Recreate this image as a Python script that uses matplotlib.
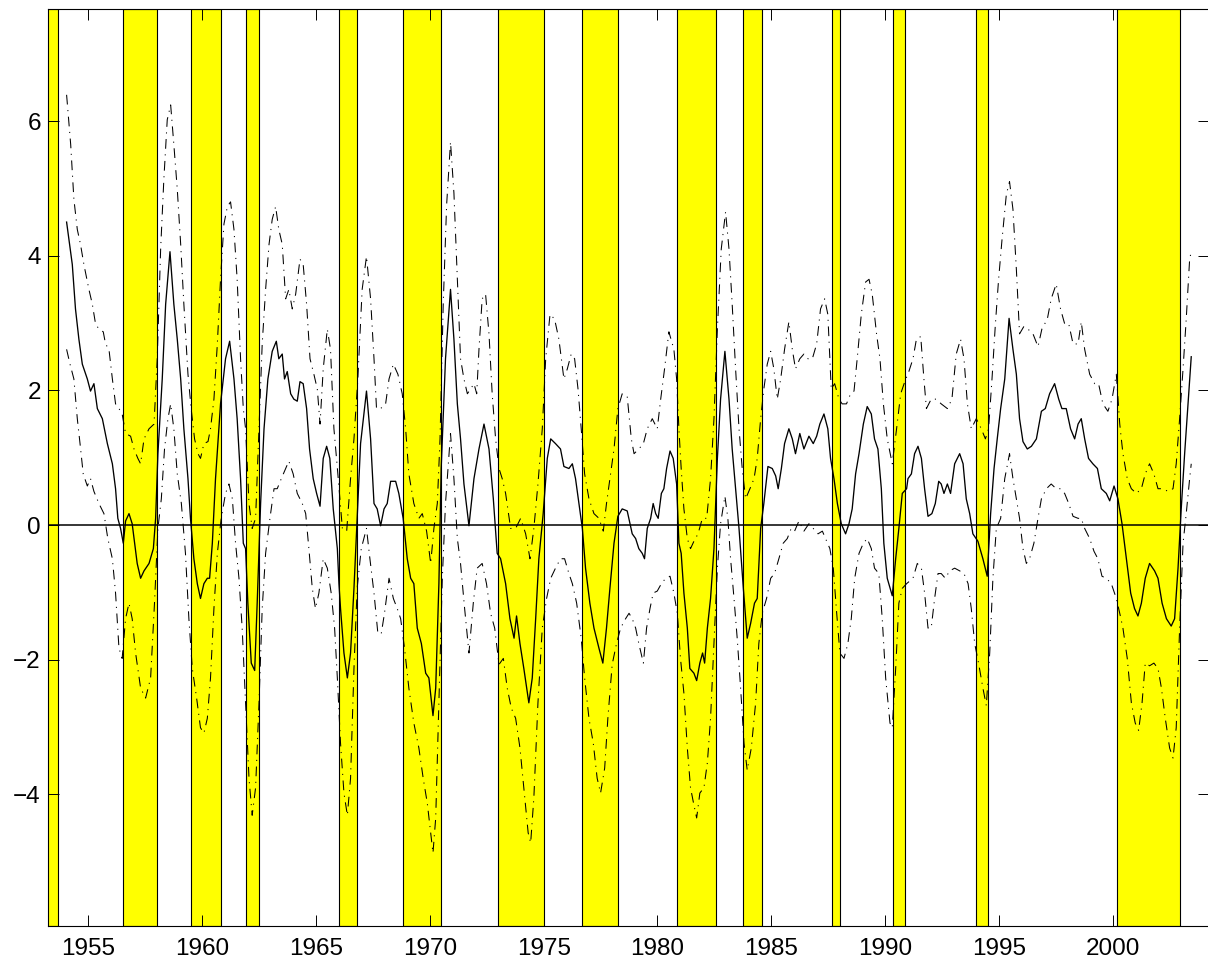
import matplotlib
matplotlib.use("Agg")
import matplotlib.pyplot as plt

# shaded periods (start, end) in years
recessions = [(1953.0, 1953.68), (1956.51, 1958.00), (1959.51, 1960.83),
              (1961.93, 1962.51), (1966.02, 1966.82), (1968.83, 1970.50),
              (1973.01, 1975.01), (1976.67, 1978.25), (1980.84, 1982.59),
              (1983.76, 1984.59), (1987.67, 1988.01), (1990.33, 1990.85),
              (1994.00, 1994.50), (2000.18, 2002.96)]

# central estimate (year, value)
center = [
    (1954.05, 4.50), (1954.30, 3.87), (1954.44, 3.21), (1954.59, 2.76), (1954.74, 2.39),
    (1954.96, 2.17), (1955.10, 1.99), (1955.25, 2.10), (1955.40, 1.73), (1955.62, 1.58),
    (1955.84, 1.21), (1956.06, 0.91), (1956.20, 0.54), (1956.30, 0.10), (1956.42, -0.05),
    (1956.54, -0.27), (1956.64, 0.06), (1956.79, 0.17), (1956.93, 0.02), (1957.15, -0.57),
    (1957.30, -0.79), (1957.45, -0.68), (1957.67, -0.57), (1957.86, -0.35), (1957.96, 0.10),
    (1958.06, 1.06), (1958.25, 2.17), (1958.40, 3.28), (1958.59, 4.06), (1958.76, 3.28),
    (1958.91, 2.76), (1959.06, 2.17), (1959.20, 1.43), (1959.38, 0.69), (1959.49, 0.10),
    (1959.64, -0.50), (1959.79, -0.87), (1959.93, -1.09), (1960.08, -0.87), (1960.23, -0.79),
    (1960.33, -0.79), (1960.45, -0.27), (1960.59, 0.69), (1960.81, 1.80), (1961.03, 2.47),
    (1961.21, 2.73), (1961.40, 2.17), (1961.54, 1.58), (1961.69, 0.69), (1961.81, -0.27),
    (1961.91, -0.35), (1962.01, -1.16), (1962.16, -2.05), (1962.31, -2.16), (1962.42, -1.16),
    (1962.57, 0.32), (1962.72, 1.43), (1962.89, 2.17), (1963.08, 2.58), (1963.26, 2.73),
    (1963.37, 2.47), (1963.52, 2.54), (1963.62, 2.17), (1963.74, 2.28), (1963.89, 1.95),
    (1964.03, 1.87), (1964.18, 1.84), (1964.30, 2.13), (1964.44, 2.10), (1964.59, 1.73),
    (1964.72, 1.13), (1964.88, 0.69), (1965.03, 0.47), (1965.18, 0.28), (1965.32, 0.99),
    (1965.47, 1.17), (1965.61, 0.99), (1965.76, 0.24), (1965.94, -0.35),
    (1966.01, -0.87), (1966.08, -1.24), (1966.23, -1.90), (1966.38, -2.27), (1966.52, -1.90),
    (1966.67, -0.94), (1966.81, 0.10), (1966.96, 1.21), (1967.22, 1.99), (1967.40, 1.28),
    (1967.55, 0.32), (1967.69, 0.24), (1967.84, -0.01), (1967.99, 0.24), (1968.13, 0.32),
    (1968.28, 0.65), (1968.50, 0.65), (1968.64, 0.47), (1968.83, 0.10), (1969.01, -0.50),
    (1969.16, -0.79), (1969.30, -0.87), (1969.45, -1.53), (1969.63, -1.76), (1969.82, -2.20),
    (1969.96, -2.27), (1970.14, -2.83), (1970.26, -2.42), (1970.40, -0.87), (1970.50, 0.84),
    (1970.69, 2.47), (1970.91, 3.50), (1971.06, 2.76), (1971.21, 1.80), (1971.35, 1.28),
    (1971.50, 0.61), (1971.72, -0.01), (1971.94, 0.69), (1972.16, 1.13), (1972.38, 1.50),
    (1972.60, 1.13), (1972.79, 0.39), (1972.96, -0.42), (1973.11, -0.50), (1973.33, -0.87),
    (1973.52, -1.39), (1973.70, -1.68), (1973.81, -1.35), (1973.96, -1.76), (1974.13, -2.13),
    (1974.35, -2.64), (1974.50, -2.27), (1974.65, -1.39), (1974.79, -0.50), (1974.98, 0.17),
    (1975.16, 0.99), (1975.31, 1.28), (1975.52, 1.21), (1975.74, 1.13), (1975.89, 0.87),
    (1976.11, 0.84), (1976.26, 0.91), (1976.40, 0.69), (1976.55, 0.32), (1976.70, -0.05),
    (1976.84, -0.64), (1977.03, -1.16), (1977.21, -1.53), (1977.43, -1.83), (1977.60, -2.05),
    (1977.76, -1.53), (1977.91, -0.94), (1978.09, -0.27), (1978.26, 0.13), (1978.45, 0.24),
    (1978.67, 0.21),
    (1978.89, -0.13), (1979.04, -0.20), (1979.18, -0.35), (1979.33, -0.42), (1979.43, -0.50),
    (1979.55, -0.05), (1979.70, 0.10), (1979.81, 0.32), (1979.92, 0.17), (1980.03, 0.10),
    (1980.17, 0.47), (1980.28, 0.54), (1980.40, 0.84), (1980.55, 1.10), (1980.69, 0.99),
    (1980.84, 0.61), (1980.94, -0.27), (1981.04, -0.42), (1981.16, -1.01), (1981.31, -1.53),
    (1981.42, -2.13), (1981.60, -2.20), (1981.72, -2.31), (1981.86, -2.05), (1981.98, -1.90),
    (1982.07, -2.05), (1982.19, -1.53), (1982.33, -1.09), (1982.48, -0.35), (1982.63, 0.99),
    (1982.77, 1.87), (1982.96, 2.58), (1983.14, 1.87), (1983.28, 1.13), (1983.43, 0.54),
    (1983.58, -0.05), (1983.77, -0.94), (1983.94, -1.68), (1984.09, -1.46), (1984.26, -1.16),
    (1984.38, -1.09), (1984.53, -0.05), (1984.67, 0.32), (1984.85, 0.87), (1985.04, 0.84),
    (1985.19, 0.73), (1985.30, 0.54), (1985.44, 0.84), (1985.58, 1.21), (1985.77, 1.43),
    (1985.92, 1.28), (1986.06, 1.06), (1986.25, 1.36), (1986.43, 1.13), (1986.65, 1.32),
    (1986.84, 1.21), (1986.99, 1.32), (1987.13, 1.50), (1987.31, 1.65), (1987.48, 1.43),
    (1987.60, 0.99), (1987.75, 0.69), (1987.90, 0.32), (1988.07, 0.02), (1988.26, -0.13),
    (1988.41, 0.02), (1988.55, 0.24), (1988.70, 0.76), (1988.85, 1.06), (1989.04, 1.50),
    (1989.21, 1.76), (1989.39, 1.65), (1989.53, 1.28), (1989.68, 1.13), (1989.83, 0.54),
    (1989.94, -0.27), (1990.09, -0.79), (1990.31, -1.05), (1990.46, -0.50), (1990.60, -0.05),
    (1990.75, 0.47), (1990.94, 0.54),
    (1991.00, 0.69), (1991.15, 0.76), (1991.29, 1.06), (1991.44, 1.17), (1991.59, 0.99),
    (1991.73, 0.54), (1991.88, 0.13), (1992.05, 0.17), (1992.20, 0.32), (1992.35, 0.65),
    (1992.46, 0.61), (1992.58, 0.47), (1992.73, 0.61), (1992.87, 0.47), (1993.05, 0.91),
    (1993.27, 1.06), (1993.42, 0.91), (1993.56, 0.39), (1993.71, 0.17), (1993.85, -0.13),
    (1994.07, -0.24), (1994.29, -0.50), (1994.48, -0.76), (1994.63, 0.17), (1994.78, 0.84),
    (1994.92, 1.28), (1995.07, 1.73), (1995.25, 2.17), (1995.44, 3.07), (1995.61, 2.61),
    (1995.76, 2.24), (1995.90, 1.58), (1996.05, 1.24), (1996.24, 1.13), (1996.42, 1.17),
    (1996.64, 1.28), (1996.86, 1.69), (1997.03, 1.73), (1997.22, 1.95), (1997.44, 2.10),
    (1997.62, 1.87), (1997.76, 1.73), (1997.95, 1.73), (1998.14, 1.43), (1998.32, 1.28),
    (1998.47, 1.50), (1998.61, 1.58), (1998.76, 1.28), (1998.93, 0.99), (1999.12, 0.91),
    (1999.32, 0.84), (1999.49, 0.54), (1999.71, 0.47), (1999.86, 0.36), (2000.05, 0.58),
    (2000.22, 0.39), (2000.40, 0.02), (2000.59, -0.50), (2000.78, -1.01), (2000.95, -1.24),
    (2001.10, -1.35), (2001.25, -1.16), (2001.42, -0.79), (2001.61, -0.57), (2001.83, -0.68),
    (2001.98, -0.79), (2002.16, -1.16), (2002.35, -1.39), (2002.56, -1.50), (2002.71, -1.39),
    (2002.86, -0.64), (2003.00, 0.24), (2003.15, 1.06), (2003.30, 1.80), (2003.44, 2.50),
]

# upper band (year, value)
upper = [
    (1954.05, 6.39), (1954.23, 5.65), (1954.37, 4.84), (1954.52, 4.39), (1954.66, 4.17),
    (1954.81, 3.87), (1955.03, 3.50), (1955.18, 3.28), (1955.32, 2.99), (1955.47, 2.91),
    (1955.66, 2.87), (1955.76, 2.69), (1955.91, 2.61), (1956.06, 2.17), (1956.20, 1.80),
    (1956.35, 1.73), (1956.49, 1.65), (1956.64, 1.36), (1956.86, 1.32), (1957.01, 1.13),
    (1957.18, 0.99), (1957.30, 0.91), (1957.45, 1.28), (1957.67, 1.43), (1957.89, 1.50),
    (1958.03, 2.47), (1958.18, 4.10), (1958.32, 5.13), (1958.47, 6.02), (1958.62, 6.24),
    (1958.76, 5.65), (1958.91, 4.99), (1959.06, 4.17), (1959.20, 3.28), (1959.38, 2.24),
    (1959.52, 1.73), (1959.67, 1.28), (1959.82, 1.06), (1959.93, 0.99), (1960.08, 1.21),
    (1960.26, 1.24), (1960.37, 1.43), (1960.52, 1.87), (1960.67, 2.69), (1960.81, 3.65),
    (1960.96, 4.47), (1961.11, 4.73), (1961.25, 4.80), (1961.40, 4.39), (1961.54, 3.65),
    (1961.69, 2.47), (1961.81, 1.73), (1961.91, 1.43), (1962.06, 0.32), (1962.20, -0.05),
    (1962.35, 0.10), (1962.50, 1.43), (1962.64, 2.69), (1962.79, 3.50), (1962.94, 4.17),
    (1963.08, 4.54), (1963.23, 4.73), (1963.37, 4.39), (1963.52, 4.17), (1963.67, 3.36),
    (1963.81, 3.50), (1963.96, 3.21), (1964.11, 3.43), (1964.30, 3.95), (1964.44, 3.87),
    (1964.59, 3.28), (1964.74, 2.47), (1964.91, 2.24), (1965.06, 2.02), (1965.18, 1.50),
    (1965.32, 2.32), (1965.50, 2.91), (1965.64, 2.61), (1965.79, 1.43), (1965.94, 0.85),
    (1966.16, -0.05), (1966.35, -0.09), (1966.52, 0.69), (1966.67, 1.28), (1966.84, 2.17),
    (1967.03, 3.50), (1967.22, 3.99), (1967.40, 3.36), (1967.55, 2.47), (1967.66, 1.73),
    (1967.84, 1.73), (1968.06, 1.80), (1968.21, 2.17), (1968.40, 2.39), (1968.60, 2.24),
    (1968.79, 1.95), (1968.94, 1.43), (1969.08, 0.76), (1969.30, 0.32), (1969.52, 0.10),
    (1969.67, 0.17), (1969.86, -0.09), (1970.04, -0.57), (1970.18, -0.05), (1970.33, 0.32),
    (1970.45, 1.28), (1970.59, 3.28), (1970.74, 4.76), (1970.91, 5.69), (1971.06, 4.93),
    (1971.21, 3.65), (1971.35, 2.47), (1971.50, 2.17), (1971.65, 1.95), (1971.79, 2.02),
    (1971.94, 2.10), (1972.06, 1.95), (1972.16, 2.61), (1972.30, 3.36), (1972.45, 3.43),
    (1972.60, 2.84), (1972.74, 1.95), (1972.89, 1.28), (1973.04, 0.84), (1973.18, 0.69),
    (1973.33, 0.47), (1973.55, -0.05), (1973.77, -0.05), (1973.99, 0.10), (1974.21, -0.13),
    (1974.40, -0.50), (1974.57, -0.05), (1974.75, 0.61), (1974.94, 1.43), (1975.09, 2.47),
    (1975.28, 3.13), (1975.48, 3.06), (1975.67, 2.76), (1975.89, 2.17), (1976.04, 2.32),
    (1976.21, 2.54), (1976.36, 2.47), (1976.51, 2.02), (1976.65, 1.43), (1976.80, 0.76),
    (1976.99, 0.39), (1977.21, 0.17), (1977.43, 0.10), (1977.62, -0.09), (1977.76, 0.32),
    (1977.91, 0.69), (1978.09, 1.13), (1978.26, 1.73), (1978.45, 1.95), (1978.67, 1.91),
    (1978.85, 1.28), (1978.97, 1.06), (1979.18, 1.13), (1979.38, 1.21), (1979.55, 1.43),
    (1979.77, 1.58), (1979.99, 1.43), (1980.14, 1.87), (1980.31, 2.32), (1980.50, 2.87),
    (1980.72, 2.61), (1980.84, 2.17), (1980.94, 1.43), (1981.04, 0.84), (1981.16, 0.24),
    (1981.31, -0.20), (1981.45, -0.35), (1981.60, -0.24), (1981.78, -0.13), (1981.97, 0.10),
    (1982.16, 0.10), (1982.33, 0.69), (1982.48, 1.58), (1982.63, 2.91), (1982.80, 4.10),
    (1982.99, 4.65), (1983.14, 4.10), (1983.28, 3.28), (1983.43, 2.32), (1983.58, 1.43),
    (1983.72, 0.84), (1983.87, 0.39), (1984.06, 0.54), (1984.24, 0.69), (1984.38, 0.99),
    (1984.53, 1.58), (1984.67, 2.02), (1984.82, 2.39), (1984.97, 2.58), (1985.11, 2.32),
    (1985.26, 1.87), (1985.41, 2.17), (1985.58, 2.61), (1985.77, 3.02), (1985.92, 2.61),
    (1986.06, 2.32), (1986.25, 2.47), (1986.43, 2.54), (1986.61, 2.47), (1986.80, 2.47),
    (1986.99, 2.69), (1987.16, 3.21), (1987.34, 3.36), (1987.48, 3.13), (1987.63, 2.02),
    (1987.78, 2.10), (1987.97, 1.87), (1988.11, 1.80), (1988.30, 1.80), (1988.48, 1.95),
    (1988.63, 1.99), (1988.77, 2.47), (1988.95, 3.13), (1989.14, 3.61), (1989.29, 3.65),
    (1989.43, 3.43), (1989.62, 2.84), (1989.77, 2.47), (1989.92, 1.80), (1990.09, 1.28),
    (1990.31, 0.91), (1990.50, 1.43), (1990.68, 1.95), (1990.90, 2.17),
    (1991.00, 2.24), (1991.22, 2.47), (1991.37, 2.76), (1991.56, 2.80), (1991.70, 2.17),
    (1991.81, 1.73), (1992.02, 1.87), (1992.24, 1.87), (1992.46, 1.80), (1992.73, 1.73),
    (1992.93, 1.87), (1993.12, 2.54), (1993.31, 2.76), (1993.46, 2.47), (1993.61, 1.80),
    (1993.78, 1.43), (1994.00, 1.58), (1994.22, 1.43), (1994.40, 1.28), (1994.54, 1.43),
    (1994.69, 2.17), (1994.84, 2.99), (1994.98, 3.65), (1995.13, 4.24), (1995.32, 4.91),
    (1995.46, 5.10), (1995.61, 4.69), (1995.76, 3.80), (1995.90, 2.84), (1996.09, 2.95),
    (1996.27, 2.91), (1996.49, 2.84), (1996.71, 2.65), (1996.88, 2.91), (1997.12, 3.06),
    (1997.29, 3.36), (1997.51, 3.58), (1997.70, 3.21), (1997.88, 2.99), (1998.06, 2.99),
    (1998.25, 2.69), (1998.47, 2.69), (1998.61, 3.02), (1998.76, 2.61), (1998.98, 2.24),
    (1999.20, 2.10), (1999.37, 2.10), (1999.56, 1.80), (1999.78, 1.69), (1999.96, 1.87),
    (2000.15, 2.24), (2000.30, 1.50), (2000.44, 1.06), (2000.63, 0.69), (2000.81, 0.54),
    (2001.03, 0.47), (2001.25, 0.54), (2001.42, 0.76), (2001.61, 0.91), (2001.80, 0.76),
    (2001.98, 0.54), (2002.20, 0.54), (2002.42, 0.50), (2002.64, 0.54), (2002.78, 0.91),
    (2002.93, 1.58), (2003.08, 2.32), (2003.22, 3.06), (2003.37, 3.95), (2003.44, 4.06),
]

# lower band (year, value)
lower = [
    (1954.05, 2.61), (1954.20, 2.39), (1954.37, 2.17), (1954.52, 1.58), (1954.64, 1.21),
    (1954.78, 0.76), (1954.96, 0.58), (1955.10, 0.69), (1955.25, 0.50), (1955.47, 0.32),
    (1955.69, 0.17), (1955.86, -0.20), (1956.06, -0.50), (1956.20, -1.01), (1956.35, -1.83),
    (1956.49, -1.98), (1956.64, -1.39), (1956.79, -1.16), (1956.93, -1.39), (1957.08, -1.90),
    (1957.30, -2.42), (1957.52, -2.57), (1957.74, -2.27), (1957.91, -1.16), (1958.06, -0.05),
    (1958.21, 0.39), (1958.35, 1.13), (1958.50, 1.58), (1958.62, 1.80), (1958.76, 1.43),
    (1958.91, 0.76), (1959.09, 0.32), (1959.27, -0.42), (1959.42, -1.39), (1959.57, -2.13),
    (1959.76, -2.57), (1959.93, -3.01), (1960.08, -3.09), (1960.23, -2.87), (1960.37, -2.27),
    (1960.52, -1.24), (1960.67, -0.42), (1960.84, 0.10), (1961.03, 0.47), (1961.18, 0.61),
    (1961.33, 0.39), (1961.47, -0.27), (1961.62, -0.79), (1961.76, -1.53), (1961.91, -2.64),
    (1962.06, -3.76), (1962.20, -4.31), (1962.35, -3.90), (1962.50, -2.64), (1962.64, -1.24),
    (1962.79, -0.42), (1962.98, 0.10), (1963.16, 0.54), (1963.30, 0.54), (1963.48, 0.69),
    (1963.67, 0.84), (1963.81, 0.95), (1964.00, 0.76), (1964.18, 0.47), (1964.40, 0.32),
    (1964.55, 0.17), (1964.69, -0.35), (1964.84, -0.94), (1964.98, -1.24), (1965.13, -1.01),
    (1965.32, -0.50), (1965.50, -0.64), (1965.67, -1.01), (1965.82, -1.53),
    (1965.94, -2.27), (1966.08, -3.24), (1966.23, -3.98), (1966.38, -4.31), (1966.52, -3.76),
    (1966.67, -2.13), (1966.81, -0.94), (1966.99, -0.35), (1967.22, -0.05), (1967.37, -0.50),
    (1967.55, -1.01), (1967.72, -1.61), (1967.87, -1.61), (1968.01, -1.31), (1968.21, -0.79),
    (1968.40, -1.09), (1968.57, -1.24), (1968.72, -1.39), (1968.89, -1.83), (1969.08, -2.42),
    (1969.30, -2.94), (1969.52, -3.31), (1969.71, -3.76), (1969.89, -4.13), (1970.04, -4.57),
    (1970.14, -4.87), (1970.26, -4.35), (1970.40, -2.64), (1970.55, -0.79), (1970.69, 0.32),
    (1970.91, 1.36), (1971.06, 0.69), (1971.21, -0.20), (1971.35, -0.57), (1971.53, -1.24),
    (1971.72, -1.90), (1971.91, -1.16), (1972.08, -0.64), (1972.30, -0.57), (1972.49, -0.87),
    (1972.67, -1.31), (1972.85, -1.53), (1973.04, -2.07), (1973.23, -1.98), (1973.40, -2.42),
    (1973.58, -2.72), (1973.77, -2.87), (1973.96, -3.31), (1974.13, -3.90), (1974.32, -4.57),
    (1974.43, -4.72), (1974.57, -4.05), (1974.75, -2.64), (1974.94, -1.53), (1975.13, -1.09),
    (1975.31, -0.79), (1975.52, -0.64), (1975.74, -0.50), (1975.92, -0.50), (1976.11, -0.72),
    (1976.26, -0.87), (1976.45, -1.16), (1976.65, -1.68), (1976.80, -2.27), (1976.99, -2.87),
    (1977.18, -3.24), (1977.35, -3.76), (1977.50, -3.98), (1977.68, -3.61), (1977.82, -2.87),
    (1978.01, -2.07), (1978.20, -1.76), (1978.38, -1.53), (1978.60, -1.39),
    (1978.75, -1.31), (1978.89, -1.39), (1979.04, -1.53), (1979.18, -1.76), (1979.38, -2.05),
    (1979.52, -1.53), (1979.67, -1.24), (1979.81, -1.01), (1979.99, -0.98), (1980.17, -0.87),
    (1980.36, -0.79), (1980.55, -0.76), (1980.72, -1.01), (1980.87, -1.31), (1981.01, -1.98),
    (1981.16, -2.50), (1981.31, -3.31), (1981.45, -3.90), (1981.60, -4.16), (1981.72, -4.35),
    (1981.86, -3.98), (1982.04, -3.90), (1982.19, -3.53), (1982.33, -2.87), (1982.48, -1.76),
    (1982.63, -0.64), (1982.77, 0.02), (1982.96, 0.43), (1983.09, 0.10), (1983.21, -0.50),
    (1983.36, -1.09), (1983.50, -1.68), (1983.65, -2.42), (1983.80, -3.24), (1983.94, -3.64),
    (1984.12, -3.31), (1984.31, -2.64), (1984.45, -1.76), (1984.60, -1.31), (1984.79, -1.09),
    (1984.97, -0.79), (1985.14, -0.72), (1985.33, -0.50), (1985.52, -0.27), (1985.70, -0.20),
    (1985.87, -0.05), (1986.02, -0.09), (1986.21, 0.06), (1986.43, -0.09), (1986.65, 0.02),
    (1986.84, -0.05), (1987.05, -0.13), (1987.24, -0.09), (1987.38, -0.20), (1987.57, -0.35),
    (1987.72, -0.64), (1987.87, -1.31), (1988.01, -1.90), (1988.19, -1.98), (1988.36, -1.76),
    (1988.51, -1.39), (1988.66, -0.79), (1988.85, -0.42), (1989.04, -0.27), (1989.21, -0.20),
    (1989.39, -0.35), (1989.53, -0.64), (1989.72, -0.72), (1989.87, -1.39), (1990.02, -2.27),
    (1990.21, -2.94), (1990.31, -3.01), (1990.46, -2.13), (1990.60, -1.16), (1990.75, -0.94),
    (1990.94, -0.87),
    (1991.22, -0.79), (1991.41, -0.57), (1991.59, -0.64), (1991.73, -1.01), (1991.88, -1.53),
    (1992.02, -1.53), (1992.17, -1.09), (1992.32, -0.72), (1992.46, -0.72), (1992.64, -0.79),
    (1992.83, -0.68), (1993.05, -0.64), (1993.27, -0.68), (1993.46, -0.72), (1993.64, -0.87),
    (1993.78, -1.24), (1993.93, -1.76), (1994.10, -2.05), (1994.29, -2.42), (1994.44, -2.68),
    (1994.59, -1.90), (1994.73, -0.79), (1994.88, -0.05), (1995.07, 0.10), (1995.25, 0.69),
    (1995.46, 1.06), (1995.61, 0.69), (1995.76, 0.39), (1995.90, 0.10), (1996.05, -0.35),
    (1996.20, -0.57), (1996.34, -0.50), (1996.53, -0.27), (1996.71, 0.10), (1996.86, 0.39),
    (1997.08, 0.54), (1997.29, 0.61), (1997.51, 0.54), (1997.70, 0.54), (1997.88, 0.47),
    (1998.06, 0.32), (1998.25, 0.13), (1998.47, 0.10), (1998.61, 0.10), (1998.76, -0.05),
    (1998.98, -0.20), (1999.17, -0.39), (1999.34, -0.50), (1999.52, -0.76), (1999.71, -0.79),
    (1999.93, -0.87), (2000.15, -1.09), (2000.30, -1.31), (2000.44, -1.53), (2000.63, -1.98),
    (2000.81, -2.64), (2000.98, -2.94), (2001.13, -3.05), (2001.28, -2.64), (2001.42, -2.05),
    (2001.61, -2.09), (2001.80, -2.05), (2001.98, -2.13), (2002.13, -2.42), (2002.30, -2.87),
    (2002.49, -3.31), (2002.64, -3.46), (2002.78, -3.01), (2002.93, -1.53), (2003.08, -0.27),
    (2003.22, 0.17), (2003.37, 0.69), (2003.44, 0.91),
]

x_ticks = [1955, 1960, 1965, 1970, 1975, 1980, 1985, 1990, 1995, 2000]
y_ticks = [-4, -2, 0, 2, 4, 6]

plt.rcParams['font.family'] = ['Liberation Sans', 'DejaVu Sans']
plt.rcParams['lines.scale_dashes'] = False

W, H = 1208, 959
fig = plt.figure(figsize=(W / 100, H / 100), dpi=100)
ax = fig.add_axes([47.7 / W, 33.3 / H, (1209 - 47.7) / W, (925.7 - 9.3) / H])

for a, b in recessions:
    ax.axvspan(a, b, facecolor='#ffff00', edgecolor='black', linewidth=0.8, zorder=1)

ax.axhline(0, color='black', linewidth=1.1, zorder=2)

xs, ys = zip(*center)
ax.plot(xs, ys, color='black', linewidth=0.95, zorder=3)
for band in (upper, lower):
    xs, ys = zip(*band)
    ax.plot(xs, ys, color='black', linewidth=0.75, dashes=(7, 4, 0.8, 4), zorder=3)

ax.set_xlim(1953.22, 2004.22)
ax.set_ylim(-5.95, 7.66)
ax.set_xticks(x_ticks)
ax.set_yticks(y_ticks)
ax.tick_params(direction='in', length=8, width=0.7, top=True, right=True,
               labelsize=17.5, colors='black')
ax.tick_params(axis='x', pad=9)
ax.tick_params(axis='y', pad=5)
for sp in ax.spines.values():
    sp.set_linewidth(0.8)
    sp.set_zorder(4)

fig.savefig('out.png', dpi=100)
